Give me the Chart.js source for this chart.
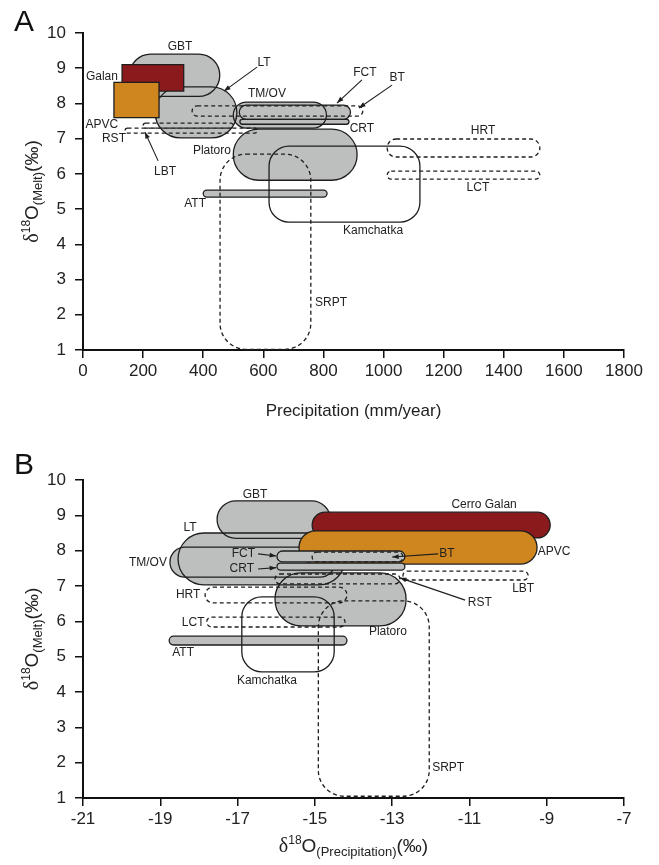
<!DOCTYPE html>
<html>
<head>
<meta charset="utf-8">
<script src="https://cdn.jsdelivr.net/npm/chart.js@4"></script>
<style>
  html, body { margin: 0; padding: 0; background: #fff; }
  #wrap { position: relative; width: 659px; height: 865px; }
  canvas { position: absolute; left: 0; }
</style>
</head>
<body>
<div id="wrap">
  <canvas id="panelA" width="659" height="432" style="top:0;width:659px;height:432px"></canvas>
  <canvas id="panelB" width="659" height="433" style="top:432px;width:659px;height:433px"></canvas>
</div>
<script>
// ---- panel A : precipitation (mm/year) vs d18O melt ----
const namesA = ['GBT', 'LT', 'TM/OV', 'Platoro', 'ATT', 'FCT', 'CRT', 'Galan', 'APVC', 'Kamchatka', 'BT', 'RST', 'LBT', 'HRT', 'LCT', 'SRPT'];
const precipLowA  = [155, 240, 500, 500, 400, 520, 522, 130, 103, 619, 363, 140, 200, 1012, 1012, 456];
const precipHighA = [455, 512, 810, 912, 812, 890, 885, 335, 253, 1121, 931, 580, 500, 1520, 1520, 758];
const meltLowA  = [8.2, 7.02, 7.30, 5.82, 5.34, 7.55, 7.41, 8.35, 7.6, 4.63, 7.64, 7.16, 7.30, 6.48, 5.85, 1.02];
const meltHighA = [9.4, 8.47, 8.04, 7.27, 5.54, 7.95, 7.55, 9.1, 8.6, 6.79, 7.93, 7.30, 7.44, 6.99, 6.08, 6.56];

// ---- panel B : d18O precipitation vs d18O melt ----
const namesB = ['GBT', 'LT', 'TM/OV', 'Platoro', 'ATT', 'Cerro Galan', 'APVC', 'FCT', 'CRT', 'Kamchatka', 'BT', 'RST', 'LBT', 'HRT', 'LCT', 'SRPT'];
const precipO18LowB  = [-17.53, -18.54, -18.75, -16.03, -18.77, -15.07, -15.41, -15.98, -15.98, -16.89, -15.07, -16.03, -12.72, -17.84, -17.8, -14.91];
const precipO18HighB = [-14.6, -14.22, -14.48, -12.64, -14.17, -8.91, -9.25, -12.67, -12.67, -14.5, -12.72, -12.8, -9.48, -14.17, -14.22, -12.04];
const meltLowB  = [8.35, 7.03, 7.25, 5.87, 5.33, 8.36, 7.62, 7.68, 7.45, 4.57, 7.68, 7.06, 7.17, 6.52, 5.84, 1.05];
const meltHighB = [9.41, 8.5, 8.1, 7.37, 5.58, 9.09, 8.56, 7.99, 7.65, 6.69, 7.96, 7.34, 7.42, 6.97, 6.12, 6.58];

// tick labels
const ticksPrecip = [0, 200, 400, 600, 800, 1000, 1200, 1400, 1600, 1800];
const ticksPrecipO18 = [-21, -19, -17, -15, -13, -11, -9, -7];
const ticksMelt = [1, 2, 3, 4, 5, 6, 7, 8, 9, 10];

// text labels (centre, in data units)
const labelTextA = ['GBT', 'Galan', 'LT', 'TM/OV', 'FCT', 'BT', 'CRT', 'APVC', 'RST', 'LBT', 'Platoro', 'HRT', 'LCT', 'Kamchatka', 'ATT', 'SRPT'];
const labelXA = [323, 63, 602, 612, 938, 1045, 928, 63, 103, 273, 429, 1331, 1314, 965, 373, 825];
const labelYA = [9.60, 8.75, 9.15, 8.27, 8.86, 8.72, 7.27, 7.39, 6.99, 6.05, 6.65, 7.22, 5.60, 4.38, 5.14, 2.33];
const labelTextB = ['GBT', 'Cerro Galan', 'LT', 'TM/OV', 'FCT', 'CRT', 'BT', 'APVC', 'HRT', 'LBT', 'RST', 'LCT', 'ATT', 'Platoro', 'Kamchatka', 'SRPT'];
const labelXB = [-16.55, -10.62, -18.23, -19.32, -16.85, -16.89, -11.58, -8.81, -18.28, -9.61, -10.73, -18.15, -18.41, -13.11, -16.24, -11.55];
const labelYB = [9.58, 9.29, 8.64, 7.65, 7.91, 7.48, 7.91, 7.96, 6.74, 6.91, 6.52, 5.95, 5.10, 5.70, 4.31, 1.85];

// arrows [fromX, fromY, toX, toY]
const arrowsA = [[579, 9.03, 469, 8.35], [928, 8.67, 845, 8.01], [1028, 8.52, 918, 7.87], [250, 6.37, 206, 7.19]];
const arrowsB = [[-16.47, 7.91, -16.0, 7.85], [-16.47, 7.48, -16.0, 7.52], [-11.81, 7.91, -13.0, 7.82], [-11.11, 6.60, -12.8, 7.23]];

// looks
const GREY = '#bdbfbe', RED = '#8b1a1d', ORANGE = '#d0861f', INK = '#1e1e1e';
const grey = (layer) => ({ fill: GREY, dash: false, round: 'pill', layer });
const dashed = { fill: null, dash: true, round: 'pill', layer: 9 };
const looksA = {
  'GBT': grey(0), 'LT': grey(0), 'TM/OV': grey(0), 'Platoro': grey(0), 'ATT': grey(0), 'FCT': grey(0), 'CRT': grey(0),
  'Galan': { fill: RED, round: 'sharp', layer: 1 }, 'APVC': { fill: ORANGE, round: 'sharp', layer: 2 },
  'Kamchatka': { fill: null, round: 'box', layer: 3 },
  'BT': dashed, 'RST': dashed, 'LBT': dashed, 'HRT': dashed, 'LCT': dashed, 'SRPT': dashed
};
const looksB = {
  'GBT': grey(0), 'LT': grey(0), 'TM/OV': grey(0), 'Platoro': grey(0), 'ATT': grey(0),
  'Cerro Galan': { fill: RED, round: 'pill', layer: 1 }, 'APVC': { fill: ORANGE, round: 'pill', layer: 2 },
  'FCT': grey(3), 'CRT': grey(3),
  'Kamchatka': { fill: null, round: 'box', layer: 4 },
  'BT': dashed, 'RST': dashed, 'LBT': dashed, 'HRT': dashed, 'LCT': dashed, 'SRPT': dashed
};

const SANS = '"Liberation Sans", Arial, Helvetica, sans-serif';
const SERIF = '"Liberation Serif", "DejaVu Serif", serif';
Chart.defaults.font.family = SANS;
Chart.defaults.color = '#222';

function radiusFor(look, w, h) {
  if (look.round === 'sharp') return 0;
  if (look.round === 'box') return Math.min(20, w / 2, h / 2);
  return Math.min(26, w / 2, h / 2);
}

// draws the range boxes through the chart scales
function rangesPlugin(names, looks, xl, xh, yl, yh) {
  return {
    id: 'ranges',
    afterDatasetsDraw(chart) {
      const ctx = chart.ctx, sx = chart.scales.x, sy = chart.scales.y;
      const layers = [...new Set(names.map(n => looks[n].layer))].sort((a, b) => a - b);
      const pathOf = (i) => {
        const x0 = sx.getPixelForValue(xl[i]), x1 = sx.getPixelForValue(xh[i]);
        const y0 = sy.getPixelForValue(yh[i]), y1 = sy.getPixelForValue(yl[i]);
        ctx.beginPath();
        ctx.roundRect(x0, y0, x1 - x0, y1 - y0, radiusFor(looks[names[i]], x1 - x0, y1 - y0));
      };
      ctx.save();
      layers.forEach(layer => {
        const idx = names.map((n, i) => i).filter(i => looks[names[i]].layer === layer);
        // fills first, then every outline of the layer stays visible
        idx.forEach(i => {
          const lk = looks[names[i]];
          if (!lk.fill) return;
          pathOf(i);
          ctx.fillStyle = lk.fill;
          ctx.fill();
        });
        idx.forEach(i => {
          const lk = looks[names[i]];
          pathOf(i);
          ctx.setLineDash(lk.dash ? [4, 3] : []);
          ctx.lineWidth = 1.3;
          ctx.strokeStyle = INK;
          ctx.stroke();
        });
      });
      ctx.restore();
    }
  };
}

function drawRich(ctx, parts, cx, cy, angle) {
  ctx.save();
  ctx.translate(cx, cy);
  ctx.rotate(angle);
  let total = 0;
  parts.forEach(p => { ctx.font = p.font; total += ctx.measureText(p.t).width; });
  let x = -total / 2;
  ctx.textAlign = 'left';
  ctx.textBaseline = 'alphabetic';
  ctx.fillStyle = '#222';
  parts.forEach(p => { ctx.font = p.font; ctx.fillText(p.t, x, p.dy || 0); x += ctx.measureText(p.t).width; });
  ctx.restore();
}

function melt() {
  return [
    { t: 'δ', font: '20px ' + SERIF }, { t: '18', font: '12px ' + SANS, dy: -8 },
    { t: 'O', font: '19px ' + SANS }, { t: '(Melt)', font: '13px ' + SANS, dy: 4 },
    { t: '(‰)', font: '19px ' + SANS }
  ];
}

// labels, arrows, titles
function notesPlugin(texts, lx, ly, arrows, letter, letterY, xTitle, xTitleY) {
  return {
    id: 'notes',
    afterDraw(chart) {
      const ctx = chart.ctx, sx = chart.scales.x, sy = chart.scales.y, area = chart.chartArea;
      ctx.save();
      ctx.font = '12px ' + SANS;
      ctx.fillStyle = '#222';
      ctx.textAlign = 'center';
      ctx.textBaseline = 'middle';
      texts.forEach((t, i) => ctx.fillText(t, sx.getPixelForValue(lx[i]), sy.getPixelForValue(ly[i])));
      ctx.strokeStyle = INK;
      ctx.fillStyle = INK;
      ctx.lineWidth = 1.1;
      arrows.forEach(a => {
        const x0 = sx.getPixelForValue(a[0]), y0 = sy.getPixelForValue(a[1]);
        const x1 = sx.getPixelForValue(a[2]), y1 = sy.getPixelForValue(a[3]);
        const ang = Math.atan2(y1 - y0, x1 - x0);
        ctx.beginPath(); ctx.moveTo(x0, y0); ctx.lineTo(x1, y1); ctx.stroke();
        ctx.beginPath();
        ctx.moveTo(x1, y1);
        ctx.lineTo(x1 - 7 * Math.cos(ang - 0.35), y1 - 7 * Math.sin(ang - 0.35));
        ctx.lineTo(x1 - 7 * Math.cos(ang + 0.35), y1 - 7 * Math.sin(ang + 0.35));
        ctx.closePath(); ctx.fill();
      });
      ctx.fillStyle = '#111';
      ctx.font = '30px ' + SANS;
      ctx.textAlign = 'left';
      ctx.textBaseline = 'alphabetic';
      ctx.fillText(letter, 14, letterY);
      ctx.restore();
      const mid = (area.left + area.right) / 2;
      drawRich(ctx, xTitle, mid, xTitleY, 0);
      drawRich(ctx, melt(), 38, (area.top + area.bottom) / 2, -Math.PI / 2);
    }
  };
}

function axis(min, max, ticks, fit, pad) {
  return {
    type: 'linear', min, max,
    afterBuildTicks: s => { s.ticks = ticks.map(v => ({ value: v })); },
    afterFit: fit,
    grid: { drawOnChartArea: false, drawTicks: true, tickLength: 8, color: '#111', lineWidth: 1.5 },
    border: { color: '#111', width: 2 },
    ticks: { color: '#222', font: { size: 17 }, padding: pad, maxRotation: 0, autoSkip: false,
             callback: v => String(v) }
  };
}

function shapesData(xl, xh, yl, yh, names) {
  return names.map((n, i) => ({
    label: n,
    data: [{ x: xl[i], y: yl[i] }, { x: xh[i], y: yh[i] }],
    pointRadius: 0, showLine: false
  }));
}

const baseOptions = (top, xs) => ({
  responsive: false, animation: false, devicePixelRatio: 1,
  layout: { padding: { left: 0, top: top, right: 35, bottom: 0 } },
  plugins: { legend: { display: false }, tooltip: { enabled: false } },
  scales: {
    x: xs,
    y: axis(1, 10, ticksMelt, s => { s.width = 83; }, 9)
  }
});

new Chart(document.getElementById('panelA').getContext('2d'), {
  type: 'scatter',
  data: { datasets: shapesData(precipLowA, precipHighA, meltLowA, meltHighA, namesA) },
  options: baseOptions(33, axis(0, 1800, ticksPrecip, s => { s.height = 82; }, 3)),
  plugins: [
    rangesPlugin(namesA, looksA, precipLowA, precipHighA, meltLowA, meltHighA),
    notesPlugin(labelTextA, labelXA, labelYA, arrowsA, 'A', 31,
      [{ t: 'Precipitation (mm/year)', font: '17px ' + SANS }], 416)
  ]
});

new Chart(document.getElementById('panelB').getContext('2d'), {
  type: 'scatter',
  data: { datasets: shapesData(precipO18LowB, precipO18HighB, meltLowB, meltHighB, namesB) },
  options: baseOptions(48, axis(-21, -7, ticksPrecipO18, s => { s.height = 67; }, 3)),
  plugins: [
    rangesPlugin(namesB, looksB, precipO18LowB, precipO18HighB, meltLowB, meltHighB),
    notesPlugin(labelTextB, labelXB, labelYB, arrowsB, 'B', 42,
      [{ t: 'δ', font: '20px ' + SERIF }, { t: '18', font: '12px ' + SANS, dy: -8 },
       { t: 'O', font: '19px ' + SANS }, { t: '(Precipitation)', font: '13px ' + SANS, dy: 4 },
       { t: '(‰)', font: '19px ' + SANS }], 420)
  ]
});
</script>
</body>
</html>
